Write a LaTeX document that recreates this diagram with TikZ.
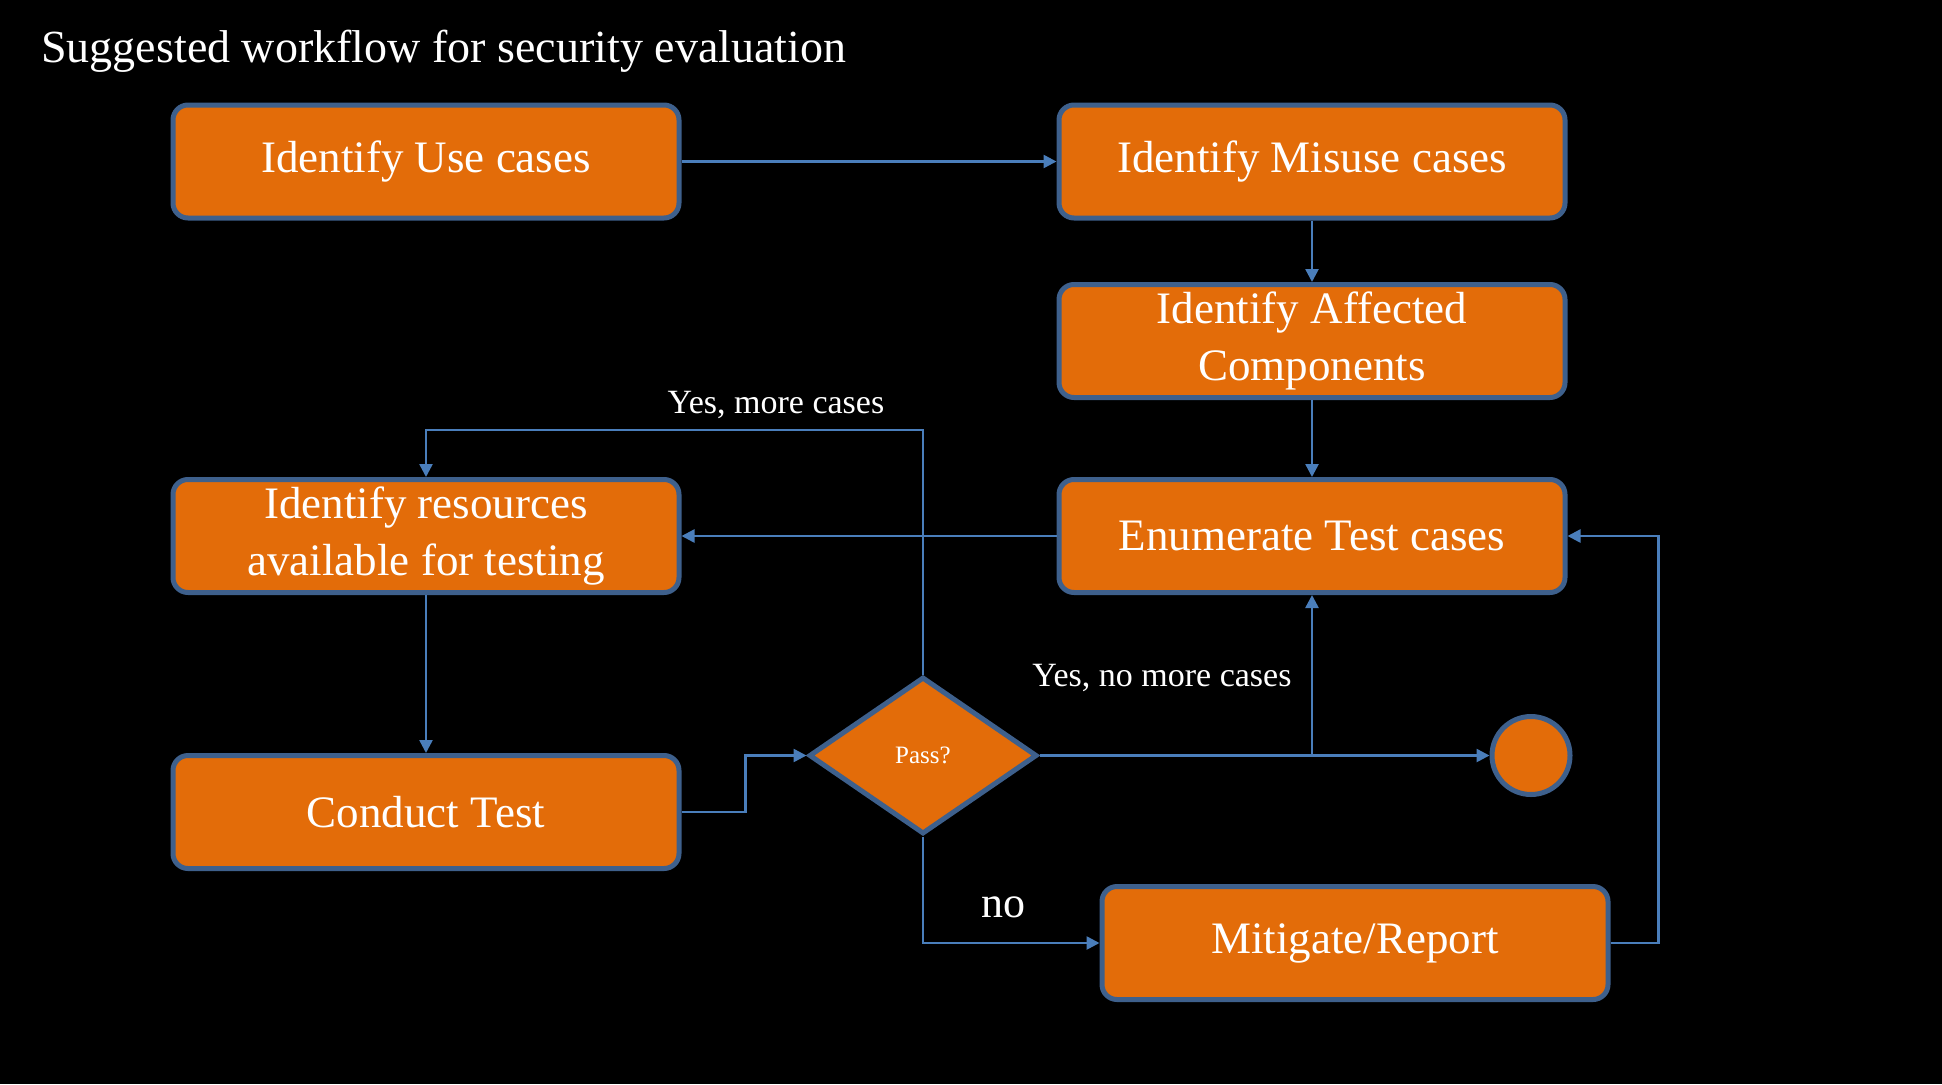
\documentclass[tikz,border=0pt]{standalone}
\usepackage{fontspec}
\setmainfont{Liberation Serif}
\usetikzlibrary{arrows.meta,shapes.geometric}

\definecolor{boxfill}{RGB}{227,108,9}
\definecolor{boxline}{RGB}{62,96,140}
\definecolor{flowline}{RGB}{74,126,187}

\tikzset{every picture/.style={line width=0.75pt}}
\tikzset{
  procbox/.style={rectangle, rounded corners=15pt, draw=boxline, line width=5pt,
    fill=boxfill, text=white, minimum width=506pt, minimum height=113pt,
    align=center, font=\fontsize{45}{57}\selectfont},
  flow/.style={draw=flowline, line width=2.5pt, -{Triangle[length=13pt,width=13pt]}},
  flowlabel/.style={text=white, inner sep=0.75pt, font=\fontsize{34}{40}\selectfont},
}

\begin{document}
\begin{tikzpicture}[x=1pt,y=1pt,yscale=-1,xscale=1]
%set diagram size 1942 x 1084, black slide
\fill[black] (0,0) rectangle (1942,1084);
\useasboundingbox (0,0) rectangle (1942,1084);

% Title Node
\node (title) [anchor=base west, text=white, inner sep=0pt, font=\fontsize{46}{52}\selectfont] at (41,62) {Suggested workflow for security evaluation};

%Rounded Rect [use cases]
\node (usecases) [procbox] at (426,161.5) {Identify Use cases};
%Rounded Rect [misuse cases]
\node (misuse) [procbox] at (1312,161.5) {Identify Misuse cases};
%Rounded Rect [affected components]
\node (affected) [procbox] at (1312,341) {Identify Affected\\Components};
%Rounded Rect [enumerate]
\node (enumerate) [procbox] at (1312,536) {Enumerate Test cases};
%Rounded Rect [resources]
\node (resources) [procbox] at (426,536) {Identify resources\\available for testing};
%Rounded Rect [conduct]
\node (conduct) [procbox] at (426,812) {Conduct Test};
%Rounded Rect [mitigate]
\node (mitigate) [procbox] at (1355,943) {Mitigate/Report};
%Shape: Diamond [pass]
\node (pass) [diamond, draw=boxline, line width=5pt, fill=boxfill, text=white, inner sep=0pt,
  minimum width=228pt, minimum height=157pt, font=\fontsize{25}{30}\selectfont] at (923,755.5) {Pass?};
%Shape: Circle [end]
\node (finish) [circle, draw=boxline, line width=5pt, fill=boxfill, minimum size=78pt, inner sep=0pt] at (1531,755.5) {};

\coordinate (moreloop) at (923,430);

%Straight Lines
\draw[flow] (usecases) -- (misuse);
\draw[flow] (misuse) -- (affected);
\draw[flow] (affected) -- (enumerate);
\draw[flow] (enumerate) -- (resources);
\draw[flow] (resources) -- (conduct);
\draw[flow] (conduct.east) -- ++(64,0) |- (pass.west);
\draw[flow] (pass.north) -- (moreloop) -| (resources.north);
\draw[flow] (pass.east) -- (finish.west);
\draw[flow] (pass.east -| enumerate.south) -- (enumerate.south);
\draw[flow] (pass.south) |- (mitigate.west);
\draw[flow] (mitigate.east) -- ++(48,0) |- (enumerate.east);

% Text Node
\node (morecases) [flowlabel] at (776,405) {Yes, more cases};
% Text Node
\node (nomorecases) [flowlabel] at (1162,678) {Yes, no more cases};
% Text Node
\node (nolabel) [flowlabel, font=\fontsize{44}{50}\selectfont] at (1003,907) {no};

\end{tikzpicture}
\end{document}
